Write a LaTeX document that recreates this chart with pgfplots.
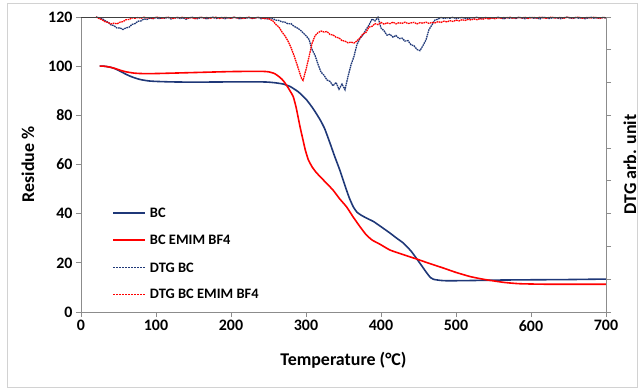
\documentclass[border=0pt]{standalone}
\usepackage{pgfplots}
\usepackage{pgfplotstable}
\pgfplotsset{compat=1.18}
\usepackage{fontspec}
\setmainfont{Carlito}
\definecolor{navy}{RGB}{31,56,120}
\definecolor{axgray}{RGB}{140,140,140}
\definecolor{bordergray}{RGB}{210,210,210}

\pgfplotstableread{
x y
25 100
30 100
35 99.8
40 99.5
45 99.0
50 98.3
55 97.5
60 96.7
65 96.0
70 95.4
75 94.9
80 94.5
90 94.0
100 93.8
120 93.6
150 93.5
200 93.6
240 93.6
250 93.5
260 93.2
270 92.7
279 91.7
290 89.5
301 86.2
310 82.5
319 78.1
325 74.5
332 68.7
338 63.5
345 57.8
350 53.2
354 49.6
358 46.2
363 42.8
368 40.6
374 39.3
382 38.0
390 36.8
400 34.7
412 32.1
421 30.0
430 28.0
440 24.8
448 21.5
455 18.5
461 15.9
466 14.0
470 13.3
478 12.9
488 12.7
520 12.8
560 13.0
600 13.1
650 13.2
700 13.4
}\bc

\pgfplotstableread{
x y
25 100
30 100
35 99.8
40 99.5
45 99.1
50 98.6
55 98.1
60 97.7
70 97.2
80 97.0
100 97.0
150 97.4
200 97.8
240 97.9
250 97.7
258 97.0
265 95.5
270 94.0
275 91.8
279 89.8
283 87.6
287 83.0
292 75.4
296 70.0
299 66.0
303 62.0
308 59.1
313 57.0
319 55.0
327 52.5
336 49.6
345 46.0
354 42.8
363 38.6
372 34.7
380 31.5
388 29.3
399 27.5
412 25.2
430 23.3
448 21.5
465 19.7
483 17.9
500 16.1
519 14.4
535 13.4
549 12.7
565 12.0
585 11.5
620 11.3
700 11.3
}\bcemim

\pgfplotstableread{
x y
20 120.0
24 119.7
28 119.4
32 118.5
36 117.9
40 116.8
44 116.5
48 115.5
52 115.6
56 114.9
60 115.6
64 115.8
68 117.0
72 117.3
76 118.3
80 118.4
84 119.2
88 119.0
92 119.6
96 119.3
100 119.8
104 119.3
108 119.7
112 119.5
116 119.9
120 119.2
124 119.6
128 119.8
132 119.4
136 119.7
140 119.1
144 119.6
148 119.9
152 119.5
156 119.3
160 119.8
164 119.6
168 119.2
172 119.7
176 119.9
180 119.4
184 119.6
188 119.8
192 119.3
196 119.7
200 119.5
204 119.9
208 119.6
212 119.2
216 119.7
220 119.5
224 119.8
228 119.4
232 119.6
236 119.9
240 119.3
244 119.6
248 119.2
252 119.4
256 119.3
260 118.7
264 118.6
268 118.0
272 117.9
276 117.2
280 117.3
284 116.2
288 115.6
292 114.8
296 113.6
300 112.4
304 110.9
308 106.8
312 104.4
316 100.8
320 97.6
324 96.3
328 94.4
332 93.8
336 92.0
340 93.4
344 90.6
348 92.7
352 90.4
356 95.8
360 100.5
364 104.0
368 108.9
372 111.3
376 112.7
380 114.9
384 116.7
388 119.2
392 118.4
396 119.9
400 115.5
404 114.4
408 112.6
412 113.0
416 111.8
420 112.5
424 111.2
428 111.4
432 110.2
436 110.4
440 108.7
444 108.3
448 106.8
452 106.3
456 108.4
460 110.7
464 114.9
468 116.8
472 118.8
476 119.1
480 119.8
484 119.4
488 119.7
492 119.5
496 119.9
500 119.3
504 119.6
508 119.8
512 119.5
516 119.2
520 119.7
524 119.6
528 119.9
532 119.4
536 119.6
540 119.8
544 119.3
548 119.7
552 119.5
556 119.9
560 119.6
564 119.2
568 119.8
572 119.5
576 119.7
580 119.4
584 119.9
588 119.6
592 119.3
596 119.7
600 119.8
604 119.5
608 119.6
612 119.2
616 119.9
620 119.7
624 119.4
628 119.6
632 119.8
636 119.5
640 119.3
644 119.7
648 119.9
652 119.6
656 119.4
660 119.8
664 119.5
668 119.7
672 119.3
676 119.6
680 119.9
684 119.5
688 119.7
692 119.4
696 119.8
700 119.6
}\dtgbc

\pgfplotstableread{
x y
20 120.0
24 119.4
28 118.9
32 118.1
36 117.8
40 117.2
44 117.5
48 117.2
52 117.9
56 118.1
60 118.9
64 119.0
68 119.6
72 119.5
76 119.8
80 119.5
84 119.9
88 119.6
92 119.7
96 119.4
100 119.9
104 119.8
108 119.5
112 119.7
116 119.9
120 119.6
124 119.4
128 119.8
132 119.7
136 119.9
140 119.5
144 119.6
148 119.8
152 119.3
156 119.7
160 119.9
164 119.6
168 119.8
172 119.5
176 119.7
180 119.9
184 119.4
188 119.6
192 119.8
196 119.7
200 119.5
204 119.9
208 119.6
212 119.8
216 119.4
220 119.7
224 119.9
228 119.5
232 119.6
236 119.8
240 119.7
244 119.3
248 119.6
252 119.0
256 118.4
260 116.9
264 115.9
268 113.9
272 112.3
276 110.2
280 107.6
284 104.3
288 100.7
292 96.9
294 95.0
296 94.2
300 98.6
304 103.8
308 109.2
312 112.4
316 113.6
320 114.3
324 113.9
328 114.1
332 112.9
336 112.7
340 111.8
344 111.5
348 110.4
352 110.2
356 109.5
360 109.8
364 109.4
368 110.3
372 111.5
376 113.2
380 113.7
384 115.9
388 116.2
392 117.3
396 116.9
400 117.8
404 117.1
408 117.6
412 117.3
416 117.9
420 117.2
424 117.7
428 117.4
432 117.9
436 117.3
440 117.6
444 117.8
448 117.2
452 117.7
456 117.5
460 117.9
464 117.4
468 117.8
472 117.6
476 118.1
480 117.8
484 118.3
488 118.0
492 118.5
496 118.2
500 118.7
504 118.4
508 118.9
512 118.6
516 119.0
520 118.8
524 119.2
528 118.9
532 119.3
536 119.1
540 119.5
544 119.2
548 119.6
552 119.3
556 119.7
560 119.5
564 119.8
568 119.6
572 119.9
576 119.5
580 119.7
584 119.8
588 119.6
592 119.9
596 119.4
600 119.7
604 119.8
608 119.6
612 119.9
616 119.7
620 119.5
624 119.8
628 119.9
632 119.6
636 119.7
640 119.8
644 119.5
648 119.9
652 119.7
656 119.6
660 119.8
664 119.9
668 119.5
672 119.7
676 119.8
680 119.6
684 119.9
688 119.7
692 119.5
696 119.8
700 119.7
}\dtgbcemim

\begin{document}
\begin{tikzpicture}
\path[use as bounding box] (-81bp,-78bp) rectangle (559bp,312bp);
\draw[bordergray, line width=0.8bp] (-74bp,-75bp) rectangle (556bp,309bp);
\begin{axis}[
  at={(0,0)}, anchor=south west,
  scale only axis, width=525bp, height=295bp,
  xmin=0, xmax=700, ymin=0, ymax=120,
  axis x line*=bottom, axis y line*=left,
  axis line style={axgray, line width=0.8bp},
  xtick={0,100,...,700}, ytick={0,20,...,120},
  tick align=outside, major tick length=5bp,
  tick style={axgray, line width=0.8bp},
  /pgf/number format/assume math mode=true,
  ticklabel style={font=\fontsize{16}{18}\selectfont\bfseries, text=black},
  xlabel={Temperature (°C)}, ylabel={Residue \%},
  every axis x label/.style={at={(axis description cs:0.5,-0.1627)}, anchor=center,
    font=\fontsize{18}{20}\selectfont\bfseries},
  every axis y label/.style={at={(axis description cs:-0.101,0.5)}, anchor=center, rotate=90,
    font=\fontsize{18}{20}\selectfont\bfseries},
  clip=false,
]
\begin{scope}
\clip (rel axis cs:0,0) rectangle (rel axis cs:1,1);
\addplot[navy, line width=1.6bp, smooth, tension=0.3] table {\bc};
\addplot[red, line width=1.6bp, smooth, tension=0.3] table {\bcemim};
\addplot[navy, line width=1.3bp, dash pattern=on 1.6bp off 0.7bp] table {\dtgbc};
\addplot[red, line width=1.3bp, dash pattern=on 1.6bp off 0.7bp] table {\dtgbcemim};
\end{scope}
% legend
\begin{scope}[every node/.style={anchor=west, inner sep=0pt, font=\fontsize{14.5}{16}\selectfont\bfseries}]
\draw[navy, line width=1.6bp] (rel axis cs:0.061,0.3356) -- (rel axis cs:0.122,0.3356);
\node at (rel axis cs:0.131,0.3356) {BC};
\draw[red, line width=1.6bp] (rel axis cs:0.061,0.2441) -- (rel axis cs:0.122,0.2441);
\node at (rel axis cs:0.131,0.2441) {BC EMIM BF4};
\draw[navy, line width=1bp, dash pattern=on 2bp off 1bp] (rel axis cs:0.061,0.1492) -- (rel axis cs:0.122,0.1492);
\node at (rel axis cs:0.131,0.1492) {DTG BC};
\draw[red, line width=1bp, dash pattern=on 2bp off 1bp] (rel axis cs:0.061,0.0610) -- (rel axis cs:0.122,0.0610);
\node at (rel axis cs:0.131,0.0610) {DTG BC EMIM BF4};
\end{scope}
\end{axis}
\begin{axis}[
  at={(0,0)}, anchor=south west,
  scale only axis, width=525bp, height=295bp,
  xmin=0, xmax=700, ymin=0, ymax=9,
  axis x line*=top, axis y line*=right,
  x axis line style={black!75, line width=0.8bp},
  y axis line style={axgray, line width=0.8bp},
  xtick=\empty, ytick={0,1,...,9}, yticklabels={},
  tick align=outside, major tick length=5bp,
  tick style={axgray, line width=0.8bp},
  ylabel={DTG arb. unit},
  every axis y label/.style={at={(axis description cs:1.0457,0.5)}, anchor=center, rotate=90,
    font=\fontsize{18}{20}\selectfont\bfseries},
]
\end{axis}
\end{tikzpicture}
\end{document}
